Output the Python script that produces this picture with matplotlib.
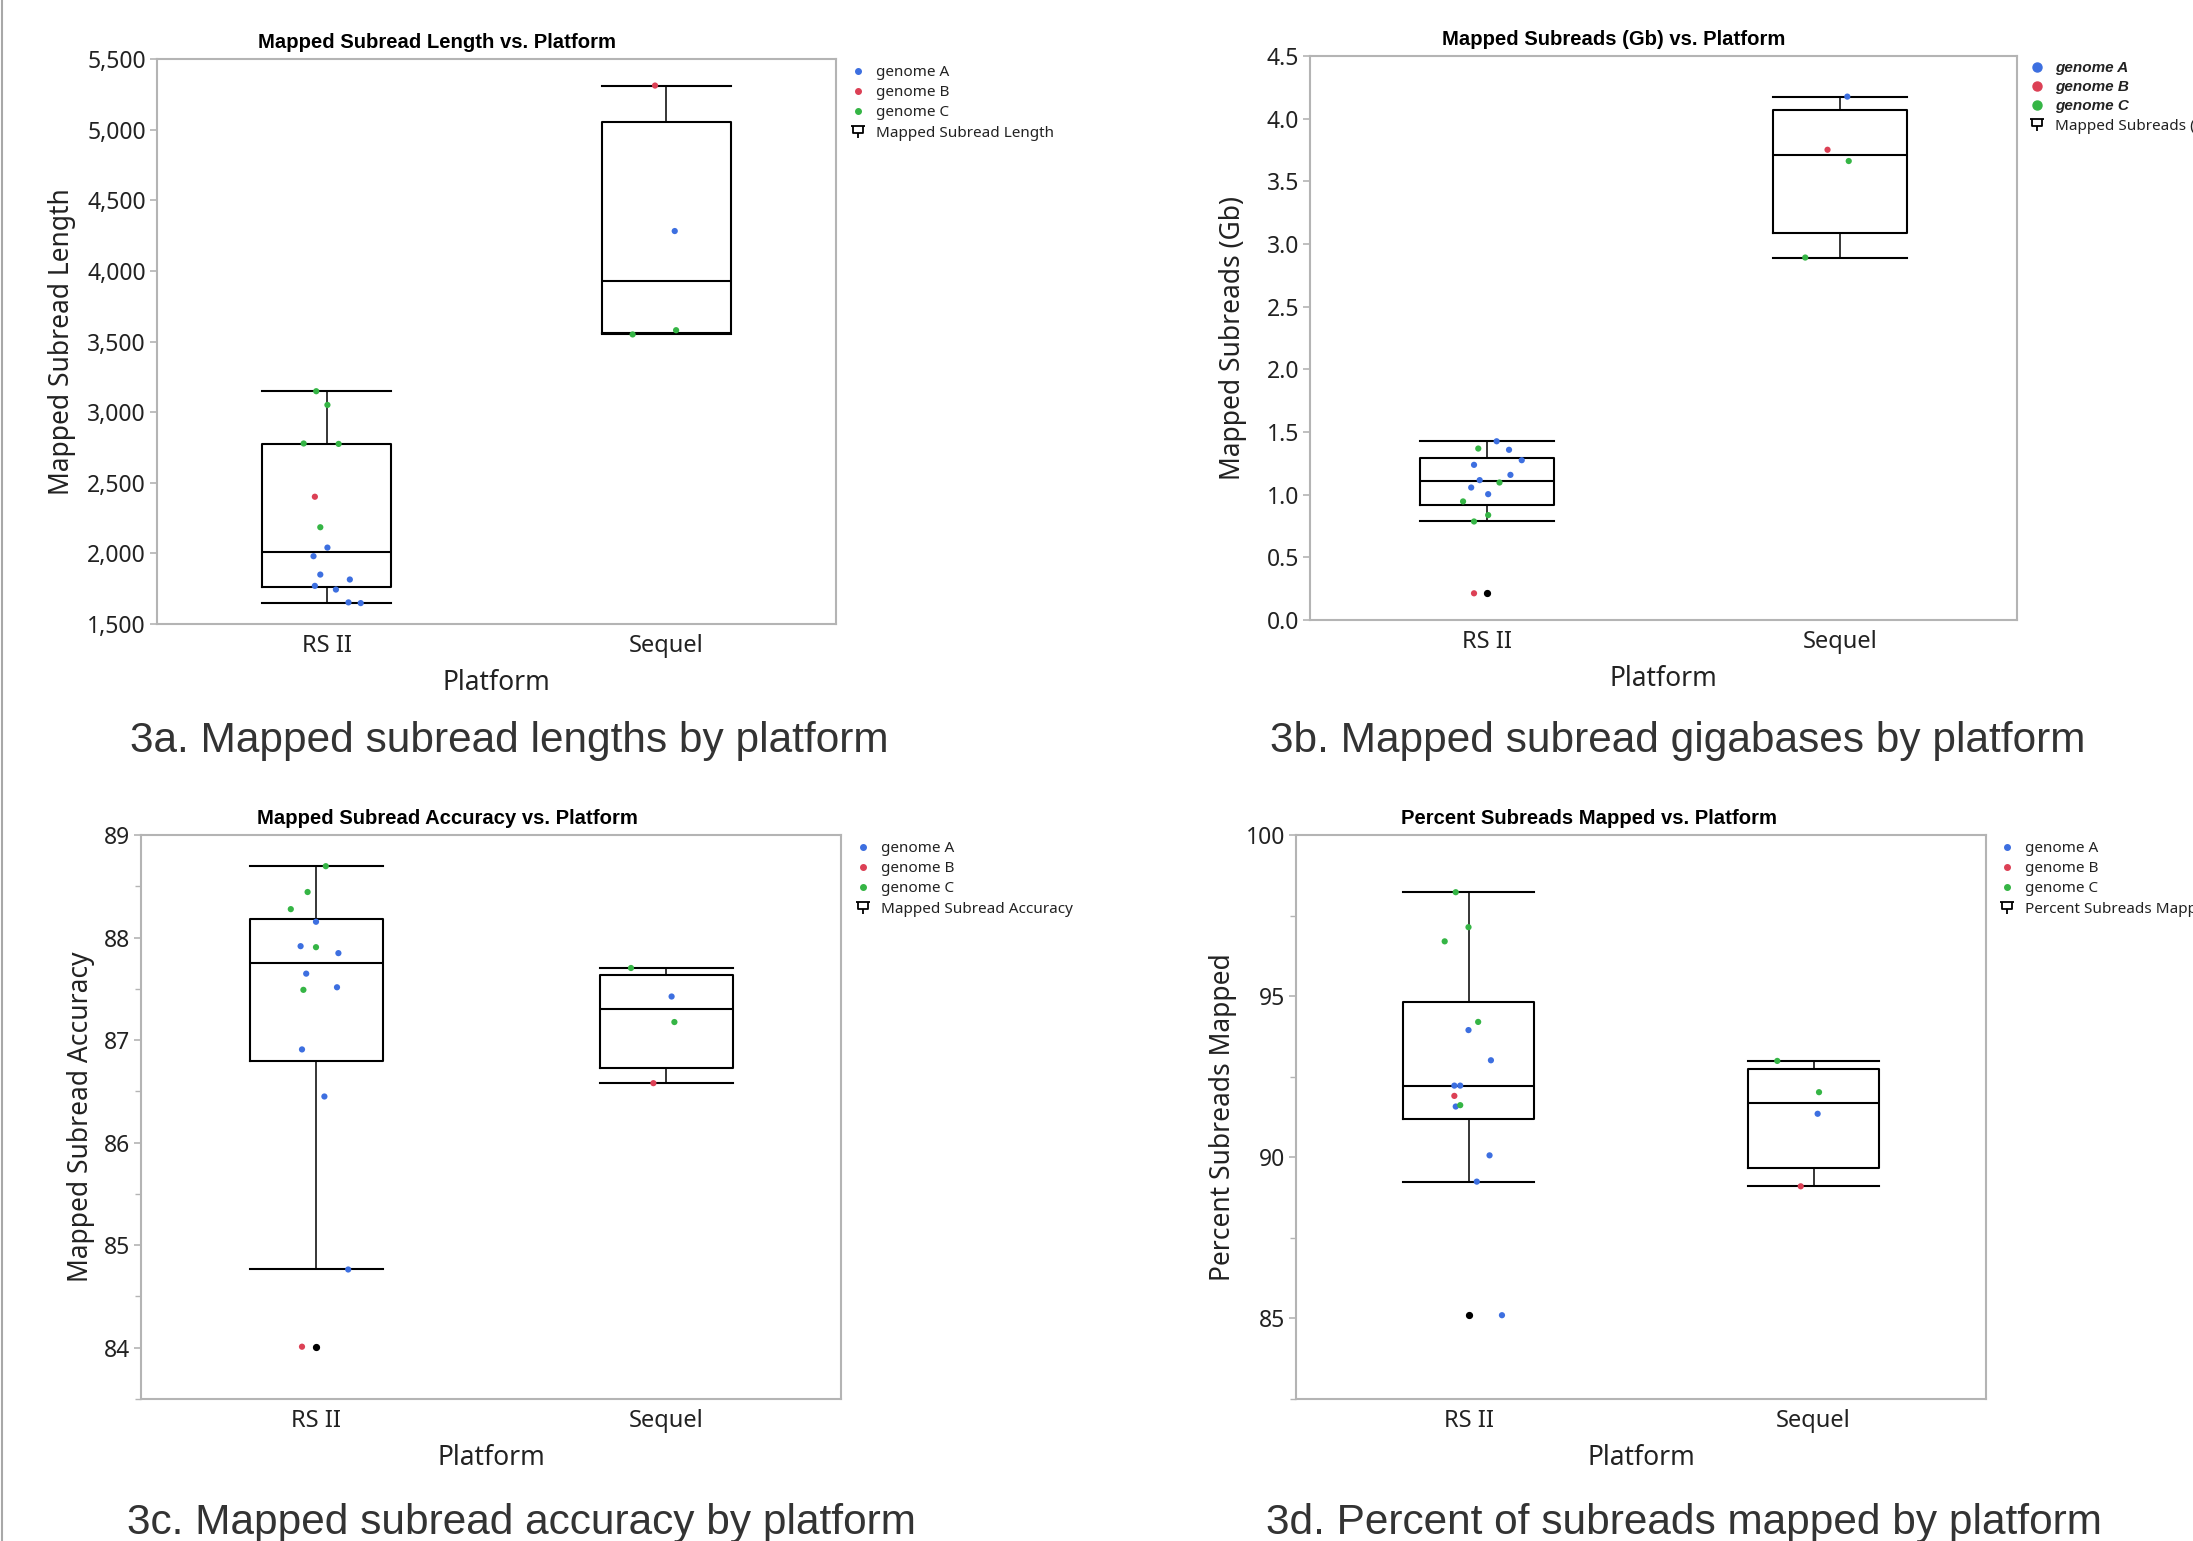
import numpy as np
import matplotlib
matplotlib.use("Agg")
import matplotlib.pyplot as plt
from matplotlib.lines import Line2D
from matplotlib.path import Path
from matplotlib.ticker import MultipleLocator, FuncFormatter
from matplotlib.font_manager import FontProperties

# ---------------- data ----------------
platforms = ["RS II", "Sequel"]
genome_labels = ["genome A", "genome B", "genome C"]

# 3a  Mapped subread length
len_rs = [3148, 3051, 2778, 2775, 2401, 2185, 2041, 1980, 1850, 1815, 1770, 1744, 1653, 1648]
len_rs_genome = ["C", "C", "C", "C", "B", "C", "A", "A", "A", "A", "A", "A", "A", "A"]
len_rs_jitter = [-0.031, 0.002, -0.068, 0.035, -0.035, -0.019, 0.002, -0.039, -0.019, 0.068, -0.035, 0.027, 0.064, 0.10]
len_sq = [5312, 4282, 3580, 3550]
len_sq_genome = ["B", "A", "C", "C"]
len_sq_jitter = [-0.033, 0.025, 0.029, -0.099]

# 3b  Mapped subreads (Gb)
gb_rs = [1.426, 1.368, 1.358, 1.275, 1.238, 1.158, 1.116, 1.097, 1.057, 1.004, 0.946, 0.837, 0.786, 0.213]
gb_rs_genome = ["A", "C", "A", "A", "A", "A", "A", "C", "A", "A", "C", "C", "C", "B"]
gb_rs_jitter = [0.028, -0.024, 0.063, 0.099, -0.036, 0.067, -0.020, 0.036, -0.044, 0.004, -0.067, 0.004, -0.036, -0.036]
gb_sq = [4.176, 3.752, 3.662, 2.892]
gb_sq_genome = ["A", "B", "C", "C"]
gb_sq_jitter = [0.020, -0.036, 0.024, -0.099]

# 3c  Mapped subread accuracy
acc_rs = [88.696, 88.444, 88.277, 88.154, 87.916, 87.906, 87.848, 87.648, 87.515, 87.49, 86.909, 86.45, 84.763, 84.01]
acc_rs_genome = ["C", "C", "C", "A", "A", "C", "A", "A", "A", "C", "A", "A", "A", "B"]
acc_rs_jitter = [0.028, -0.024, -0.072, 0.0, -0.044, 0.0, 0.064, -0.028, 0.060, -0.036, -0.040, 0.024, 0.092, -0.040]
acc_sq = [87.703, 87.425, 87.176, 86.58]
acc_sq_genome = ["C", "A", "C", "B"]
acc_sq_jitter = [-0.10, 0.016, 0.024, -0.036]

# 3d  Percent subreads mapped
pct_rs = [98.225, 97.14, 96.7, 94.2, 93.947, 93.01, 92.224, 92.224, 91.905, 91.575, 91.617, 90.06, 89.245, 85.1]
pct_rs_genome = ["C", "C", "C", "C", "A", "A", "A", "A", "B", "A", "C", "A", "A", "A"]
pct_rs_jitter = [-0.037, 0.0, -0.069, 0.028, 0.0, 0.065, -0.041, -0.024, -0.041, -0.037, -0.024, 0.061, 0.024, 0.097]
pct_sq = [92.99, 92.02, 91.35, 89.10]
pct_sq_genome = ["C", "C", "A", "B"]
pct_sq_jitter = [-0.105, 0.016, 0.012, -0.037]

# ---------------- style ----------------
W, H = 2193, 1541
colors = {"A": "#3d6fe0", "B": "#dc4055", "C": "#35b545"}
SANS = ["Noto Sans", "DejaVu Sans"]
BOLD = ["Liberation Sans", "DejaVu Sans"]
CAP = ["Liberation Sans", "DejaVu Sans"]
plt.rcParams["font.family"] = SANS
GRAY = "#b4b4b4"

fig = plt.figure(figsize=(W / 100, H / 100), dpi=100)
fig.patch.set_facecolor("white")


def box_stats(vals):
    v = np.asarray(vals, float)
    q1, med, q3 = np.percentile(v, [25, 50, 75], method="weibull")
    iqr = q3 - q1
    lo, hi = q1 - 1.5 * iqr, q3 + 1.5 * iqr
    inside = v[(v >= lo) & (v <= hi)]
    return dict(med=med, q1=q1, q3=q3, whislo=inside.min(), whishi=inside.max(),
                fliers=v[(v < lo) | (v > hi)])


# legend box icon
bverts = [(-1, 0.75), (1, 0.75), (-0.7, 0.75), (-0.7, -0.35), (0.7, -0.35), (0.7, 0.75), (0, -0.35), (0, -1)]
bcodes = [Path.MOVETO, Path.LINETO, Path.MOVETO, Path.LINETO, Path.LINETO, Path.LINETO, Path.MOVETO, Path.LINETO]
box_icon = Path(bverts, bcodes)

panels = [
    dict(rect=(157, 59, 836, 624), data=[(len_rs, len_rs_genome, len_rs_jitter), (len_sq, len_sq_genome, len_sq_jitter)],
         ylim=(1500, 5500), major=500, minor=None, fmt=lambda v, p: f"{v:,.0f}",
         title="Mapped Subread Length vs. Platform", title_x=0.412, ylabel="Mapped Subread Length", ylab_x=-0.119,
         leg=(852, 65), leg_label="Mapped Subread Length", leg_bold=False,
         caption="3a. Mapped subread lengths by platform", cap_xy=(130, 741)),
    dict(rect=(1310, 56, 2017, 620), data=[(gb_rs, gb_rs_genome, gb_rs_jitter), (gb_sq, gb_sq_genome, gb_sq_jitter)],
         ylim=(0, 4.5), major=0.5, minor=None, fmt=lambda v, p: f"{v:.1f}",
         title="Mapped Subreads (Gb) vs. Platform", title_x=0.429, ylabel="Mapped Subreads (Gb)", ylab_x=-0.089,
         leg=(2031, 61), leg_label="Mapped Subreads (Gb)", leg_bold=True,
         caption="3b. Mapped subread gigabases by platform", cap_xy=(1270, 741)),
    dict(rect=(141, 835, 841, 1399), data=[(acc_rs, acc_rs_genome, acc_rs_jitter), (acc_sq, acc_sq_genome, acc_sq_jitter)],
         ylim=(83.5, 89), major=1, minor=0.5, fmt=lambda v, p: f"{v:.0f}",
         title="Mapped Subread Accuracy vs. Platform", title_x=0.438, ylabel="Mapped Subread Accuracy", ylab_x=-0.066,
         leg=(857, 841), leg_label="Mapped Subread Accuracy", leg_bold=False,
         caption="3c. Mapped subread accuracy by platform", cap_xy=(127, 1523)),
    dict(rect=(1296, 835, 1986, 1399), data=[(pct_rs, pct_rs_genome, pct_rs_jitter), (pct_sq, pct_sq_genome, pct_sq_jitter)],
         ylim=(82.5, 100), major=5, minor=2.5, fmt=lambda v, p: f"{v:.0f}",
         title="Percent Subreads Mapped vs. Platform", title_x=0.425, ylabel="Percent Subreads Mapped", ylab_x=-0.086,
         leg=(2001, 841), leg_label="Percent Subreads Mapped", leg_bold=False,
         caption="3d. Percent of subreads mapped by platform", cap_xy=(1266, 1523)),
]

for P in panels:
    l, t, r, b = P["rect"]
    ax = fig.add_axes([l / W, 1 - b / H, (r - l) / W, (b - t) / H])
    stats = [box_stats(d[0]) for d in P["data"]]
    ax.bxp(stats, positions=range(len(platforms)), widths=0.38, capwidths=0.38, manage_ticks=False,
           boxprops=dict(color="black", linewidth=1.5),
           medianprops=dict(color="black", linewidth=1.5),
           whiskerprops=dict(color="black", linewidth=1.1),
           capprops=dict(color="black", linewidth=1.5),
           flierprops=dict(marker="o", markerfacecolor="black", markeredgecolor="black", markersize=4.2),
           zorder=2)
    for i, (vals, gen, jit) in enumerate(P["data"]):
        xs = [i + j for j in jit]
        ax.scatter(xs, vals, c=[colors[g] for g in gen], s=20, edgecolors="none", zorder=3)
    ax.set_xlim(-0.5, 1.5)
    ax.set_ylim(*P["ylim"])
    ax.set_xticks(range(len(platforms)))
    ax.set_xticklabels(platforms)
    ax.yaxis.set_major_locator(MultipleLocator(P["major"]))
    ax.yaxis.set_major_formatter(FuncFormatter(P["fmt"]))
    if P["minor"]:
        ax.yaxis.set_minor_locator(MultipleLocator(P["minor"]))
    for s in ax.spines.values():
        s.set_color(GRAY)
        s.set_linewidth(1.5)
    ax.tick_params(axis="x", length=0, pad=7, labelsize=17, labelcolor="#222222")
    ax.tick_params(axis="y", which="major", length=5, width=1.2, color=GRAY, pad=3, labelsize=16.5, labelcolor="#222222")
    ax.tick_params(axis="y", which="minor", length=4, width=1.0, color=GRAY)
    ax.set_xlabel("Platform", fontsize=19, color="#222222")
    ax.xaxis.set_label_coords(0.5, -0.08)
    ax.set_ylabel(P["ylabel"], fontsize=19, color="#222222")
    ax.yaxis.set_label_coords(P["ylab_x"], 0.5)
    ax.text(P["title_x"], 1.03, P["title"], transform=ax.transAxes, ha="center", va="center",
            fontsize=14.6, fontweight="bold", family=BOLD, color="black")

    # legend
    handles = [Line2D([], [], marker="o", linestyle="none", color=colors[k],
                      markersize=(6.5 if P["leg_bold"] else 4)) for k in ["A", "B", "C"]]
    handles.append(Line2D([], [], marker=box_icon, linestyle="none", color="black", markerfacecolor="none",
                          markersize=10, markeredgewidth=1.3))
    labels = genome_labels + [P["leg_label"]]
    leg = ax.legend(handles, labels, loc="upper left", bbox_to_anchor=(P["leg"][0] / W, 1 - P["leg"][1] / H),
                    bbox_transform=fig.transFigure, frameon=False, borderpad=0, borderaxespad=0,
                    handlelength=0.8, handletextpad=0.8, labelspacing=0.34,
                    prop=FontProperties(family=SANS, size=11))
    for txt in leg.get_texts()[:3]:
        if P["leg_bold"]:
            txt.set_fontfamily(BOLD)
            txt.set_fontweight("bold")
            txt.set_fontstyle("italic")
    for txt in leg.get_texts():
        txt.set_color("#222222")

    fig.text(P["cap_xy"][0] / W, 1 - P["cap_xy"][1] / H, P["caption"], ha="left", va="center",
             fontsize=30.5, family=CAP, color="#333333")

fig.add_artist(Line2D([2 / W, 2 / W], [0, 1], transform=fig.transFigure, color="#a8a8a8", lw=1.5))

fig.savefig("out.png", dpi=100, facecolor="white")
